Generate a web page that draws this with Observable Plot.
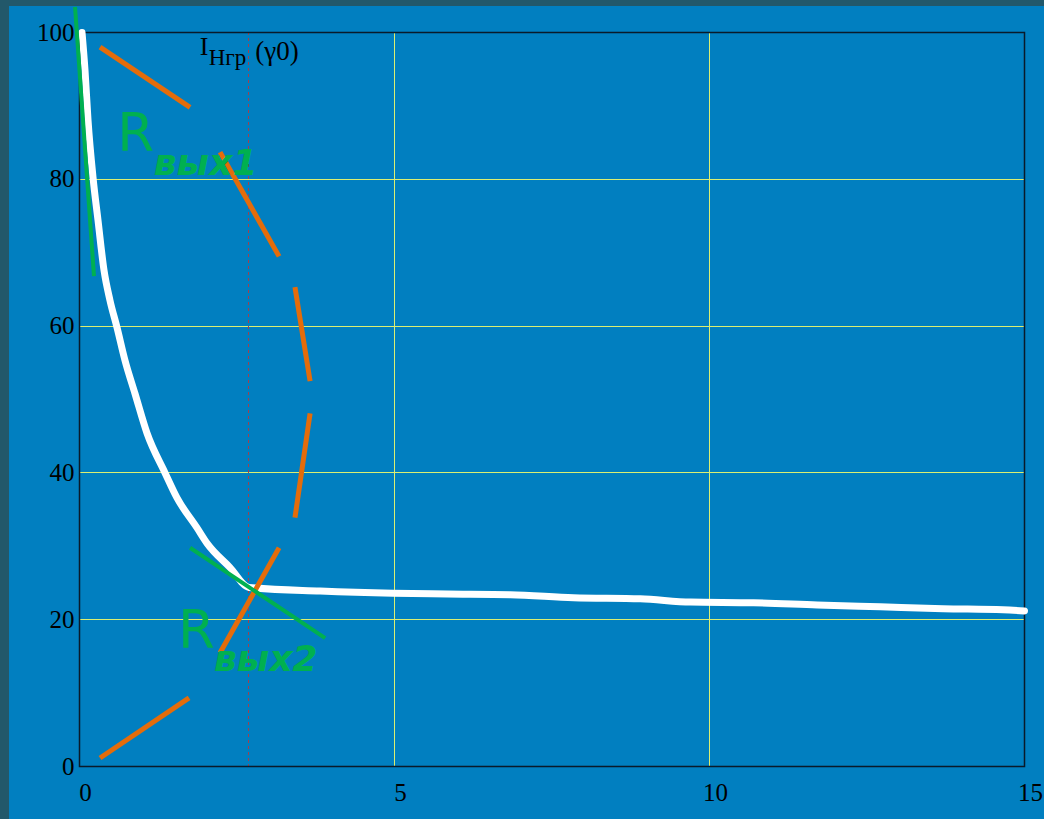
<!DOCTYPE html>
<html><head><meta charset="utf-8">
<script src="https://cdn.jsdelivr.net/npm/d3@7"></script>
<script src="https://cdn.jsdelivr.net/npm/@observablehq/plot@0.6"></script>
<style>
html,body{margin:0;padding:0;background:#22586a;width:1044px;height:819px;overflow:hidden}
#chart{position:absolute;left:9px;top:6px;width:1035px;height:813px;background:#017fc0}
#chart svg{display:block}
</style></head><body><div id="chart"></div>
<script>
// White characteristic curve
const curveX = [0.04, 0.087, 0.135, 0.214, 0.294, 0.389, 0.484, 0.596, 0.723, 0.881, 1.072, 1.358, 1.548, 1.866, 2.025, 2.39, 2.69,
  3.82, 4.98, 5.84, 6.84, 7.84, 8.90, 9.70, 10.70, 11.71, 12.71, 13.71, 14.66, 15];
const curveY = [100, 94.9, 88.1, 80.3, 74.4, 67.6, 63.5, 59.8, 55.3, 50.8, 45.4, 40.0, 36.6, 32.5, 30.4, 27.1, 24.4,
  23.9, 23.6, 23.5, 23.4, 23.0, 22.85, 22.4, 22.3, 22.0, 21.75, 21.5, 21.35, 21.2];

// Orange dashed arc (segments)
const orangeX1 = [0.326, 2.231, 3.42, 3.66, 3.168, 1.755];
const orangeY1 = [1.16, 15.5, 33.9, 52.5, 69.5, 89.8];
const orangeX2 = [1.739, 3.168, 3.66, 3.42, 2.231, 0.326];
const orangeY2 = [9.35, 29.8, 48.1, 65.3, 83.7, 98.0];

// Green tangent lines
const greenX1 = [-0.071, 1.755];
const greenY1 = [103.5, 29.8];
const greenX2 = [0.23, 3.90];
const greenY2 = [66.8, 17.5];

// Axis ticks / grid
const xTicks = [0, 5, 10, 15];
const yTicks = [0, 20, 40, 60, 80, 100];
const gridX = [5, 10];
const gridY = [20, 40, 60, 80, 100];
const markerX = 2.676;

// Annotations
const rLabels = [{t: "R", x: 0.60, y: 83.8}, {t: "R", x: 1.564, y: 16.2}];
const subLabels = [{t: "вых1", x: 1.18, y: 80.6}, {t: "вых2", x: 2.136, y: 13.0}];
const iMain = [{t: "I", x: 1.91, y: 96.9}];
const iSub = [{t: "Нгр", x: 2.05, y: 95.6}];
const iArg = [{t: "(γ0)", x: 2.79, y: 96.3}];

const curve = curveX.map((x, i) => ({x, y: curveY[i]}));
const orange = orangeX1.map((x1, i) => ({x1, y1: orangeY1[i], x2: orangeX2[i], y2: orangeY2[i]}));
const green = greenX1.map((x1, i) => ({x1, y1: greenY1[i], x2: greenX2[i], y2: greenY2[i]}));

const serif = "Liberation Serif";
const sans = "DejaVu Sans";
const gridColor = "#dcef72";

const plot = Plot.plot({
  width: 1035, height: 813,
  marginLeft: 70, marginRight: 20, marginTop: 26, marginBottom: 53,
  x: {domain: [0, 15], label: null},
  y: {domain: [0, 100], label: null},
  style: {background: "transparent", color: "black", fontFamily: serif, fontSize: "25px", overflow: "visible"},
  marks: [
    Plot.ruleY(gridY, {stroke: gridColor, strokeWidth: 1, shapeRendering: "crispEdges"}),
    Plot.ruleX(gridX, {stroke: gridColor, strokeWidth: 1, shapeRendering: "crispEdges"}),
    Plot.ruleX([markerX], {stroke: "#a0404e", strokeWidth: 1, strokeDasharray: "3,3", shapeRendering: "crispEdges"}),
    Plot.frame({stroke: "#0a1a2a", strokeWidth: 1.5}),
    Plot.axisX({ticks: xTicks, tickSize: 0, tickPadding: 17, fontSize: 25, fontFamily: serif, dx: 6, label: null, tickFormat: d => String(d)}),
    Plot.axisY({ticks: yTicks, tickSize: 0, tickPadding: 5, fontSize: 25, fontFamily: serif, label: null, tickFormat: d => String(d)}),
    Plot.line(curve, {x: "x", y: "y", stroke: "white", strokeWidth: 7, strokeLinejoin: "round", curve: "monotone-x"}),
    Plot.link(orange, {x1: "x1", y1: "y1", x2: "x2", y2: "y2", stroke: "#e46c0a", strokeWidth: 5}),
    Plot.link(green, {x1: "x1", y1: "y1", x2: "x2", y2: "y2", stroke: "#00b050", strokeWidth: 4}),
    Plot.text(rLabels, {x: "x", y: "y", text: "t", fill: "#00b050", fontSize: 53, fontFamily: sans, textAnchor: "start", lineAnchor: "bottom"}),
    Plot.text(subLabels, {x: "x", y: "y", text: "t", fill: "#00b050", fontSize: 36, fontFamily: sans, fontWeight: "bold", fontStyle: "italic", textAnchor: "start", lineAnchor: "bottom"}),
    Plot.text(iMain, {x: "x", y: "y", text: "t", fill: "black", fontSize: 26, fontFamily: serif, textAnchor: "start", lineAnchor: "bottom"}),
    Plot.text(iSub, {x: "x", y: "y", text: "t", fill: "black", fontSize: 23, fontFamily: serif, textAnchor: "start", lineAnchor: "bottom"}),
    Plot.text(iArg, {x: "x", y: "y", text: "t", fill: "black", fontSize: 27, fontFamily: serif, textAnchor: "start", lineAnchor: "bottom"})
  ]
});
document.getElementById("chart").appendChild(plot);
</script></body></html>
